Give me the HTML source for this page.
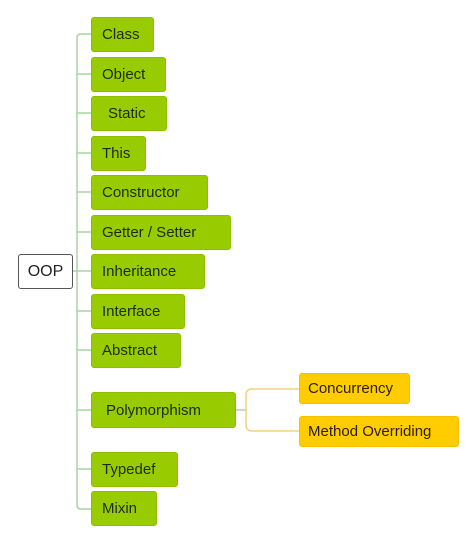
<!DOCTYPE html>
<html><head><meta charset="utf-8"><style>
body{margin:0;width:476px;height:543px;background:#fff;position:relative;overflow:hidden;font-family:"Liberation Sans",sans-serif}
.n{position:absolute;box-sizing:border-box;border-radius:3px;font-size:15px;color:#1e2a10;display:flex;align-items:center;padding-left:10px}
.g{background:#99cc00;border:1px solid #8cbf00}
.y{background:#ffcc00;border:1px solid #f5c200;color:#2a2000;padding-left:8px}
.r{background:#fff;border:1px solid #555;color:#222;font-size:16px;justify-content:center;padding:0}
svg{position:absolute;left:0;top:0}
</style></head><body>
<svg width="476" height="543">
<path d="M73 271 H77" stroke="#a8d5a0" stroke-width="1.5" fill="none"/>
<path d="M91 34 H81 Q77 34 77 38 V505 Q77 509 81 509 H91" stroke="#a8d5a0" stroke-width="1.5" fill="none"/>
<g stroke="#a8d5a0" stroke-width="1.5">
<line x1="77" y1="74" x2="91" y2="74"/><line x1="77" y1="113" x2="91" y2="113"/>
<line x1="77" y1="153" x2="91" y2="153"/><line x1="77" y1="192" x2="91" y2="192"/>
<line x1="77" y1="232" x2="91" y2="232"/><line x1="77" y1="271" x2="91" y2="271"/>
<line x1="77" y1="311" x2="91" y2="311"/><line x1="77" y1="350" x2="91" y2="350"/>
<line x1="77" y1="410" x2="91" y2="410"/><line x1="77" y1="469" x2="91" y2="469"/>
<line x1="236" y1="410" x2="246" y2="410"/>
</g>
<path d="M299 389 H252 Q246 389 246 395 V425 Q246 431 252 431 H299" stroke="#f2d27a" stroke-width="1.5" fill="none"/>
</svg>
<div class="n r" style="left:18px;top:254px;width:55px;height:35px">OOP</div>
<div class="n g" style="left:91px;top:17px;width:63px;height:35px">Class</div>
<div class="n g" style="left:91px;top:57px;width:75px;height:35px">Object</div>
<div class="n g" style="left:91px;top:96px;width:76px;height:35px;padding-left:16px">Static</div>
<div class="n g" style="left:91px;top:136px;width:55px;height:35px">This</div>
<div class="n g" style="left:91px;top:175px;width:117px;height:35px">Constructor</div>
<div class="n g" style="left:91px;top:215px;width:140px;height:35px">Getter / Setter</div>
<div class="n g" style="left:91px;top:254px;width:114px;height:35px">Inheritance</div>
<div class="n g" style="left:91px;top:294px;width:94px;height:35px">Interface</div>
<div class="n g" style="left:91px;top:333px;width:90px;height:35px">Abstract</div>
<div class="n g" style="left:91px;top:392px;width:145px;height:36px;padding-left:14px">Polymorphism</div>
<div class="n g" style="left:91px;top:452px;width:87px;height:35px">Typedef</div>
<div class="n g" style="left:91px;top:491px;width:66px;height:35px">Mixin</div>
<div class="n y" style="left:299px;top:373px;width:111px;height:31px">Concurrency</div>
<div class="n y" style="left:299px;top:416px;width:160px;height:31px">Method Overriding</div>
</body></html>
